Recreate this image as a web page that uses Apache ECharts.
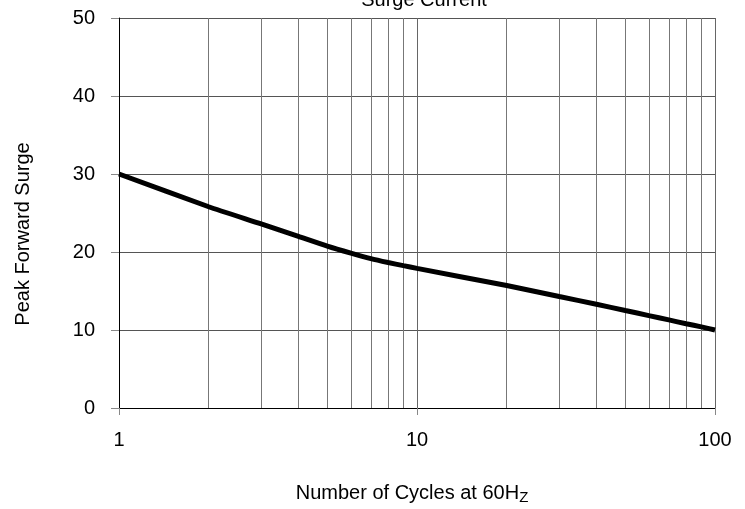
<!DOCTYPE html>
<html>
<head>
<meta charset="utf-8">
<title>Surge Current</title>
<script src="https://cdn.jsdelivr.net/npm/echarts@6/dist/echarts.min.js"></script>
<style>
    html, body { margin: 0; padding: 0; background: #fff; }
    #chart { width: 745px; height: 509px; }
</style>
</head>
<body>
<div id="chart"></div>
<script>
// number of cycles (log axis) and peak surge
var cycles = [1, 2, 3, 4, 5, 6, 7, 8, 9, 10, 20, 30, 40, 50, 60, 70, 80, 90, 100];
var surge = [30, 25.8, 23.6, 22.0, 20.75, 19.85, 19.15, 18.65, 18.25, 17.9, 15.7, 14.3, 13.3, 12.5, 11.85, 11.3, 10.8, 10.4, 10];
// minor vertical grid lines of the log axis
var minorGrid = [2, 3, 4, 5, 6, 7, 8, 9, 20, 30, 40, 50, 60, 70, 80, 90];
var yTicks = [0, 10, 20, 30, 40, 50];

var font = '"Liberation Sans", Arial, sans-serif';

var chart = echarts.init(document.getElementById('chart'));

var points = [];
for (var i = 0; i < cycles.length; i++) {
    points.push([cycles[i], surge[i]]);
}
var gridMarks = [];
for (var j = 0; j < minorGrid.length; j++) {
    gridMarks.push({ xAxis: minorGrid[j] });
}

chart.setOption({
    animation: false,
    backgroundColor: '#fff',
    textStyle: { fontFamily: font },
    grid: { left: 119, right: 30, top: 18, bottom: 101, containLabel: false },
    graphic: [
        {
            // title sits half outside the top edge
            type: 'text', x: 424, y: 0,
            style: {
                text: 'Surge Current', font: '20px ' + font, fill: '#000',
                textAlign: 'center', textVerticalAlign: 'middle'
            }
        },
        {
            type: 'text', x: 23, y: 234, rotation: Math.PI / 2,
            style: {
                text: 'Peak Forward Surge', font: '20px ' + font, fill: '#000',
                textAlign: 'center', textVerticalAlign: 'middle'
            }
        },
        {
            type: 'text', x: 412, y: 493,
            style: {
                text: '{n|Number of Cycles at 60H}{s|Z}',
                textAlign: 'center', textVerticalAlign: 'middle',
                rich: {
                    n: { fontFamily: font, fontSize: 20, color: '#000' },
                    s: { fontFamily: font, fontSize: 15, color: '#000', padding: [10, 0, 0, 0] }
                }
            }
        }
    ],
    xAxis: {
        type: 'log',
        logBase: 10,
        min: 1,
        max: 100,
        axisLine: { show: true, onZero: false, lineStyle: { color: '#000', width: 1 } },
        axisTick: { show: true, length: 7, lineStyle: { color: '#888' } },
        axisLabel: { margin: 22, fontSize: 20, color: '#000', fontFamily: font },
        splitLine: { show: true, lineStyle: { color: '#666', width: 1 } },
        minorTick: { show: false },
        minorSplitLine: { show: false }
    },
    yAxis: {
        type: 'value',
        min: 0,
        max: 50,
        interval: 10,
        axisLine: { show: true, lineStyle: { color: '#000', width: 1 } },
        axisTick: { show: true, length: 8, lineStyle: { color: '#888' } },
        axisLabel: {
            margin: 24, fontSize: 20, color: '#000', fontFamily: font,
            formatter: function (v) { return yTicks.indexOf(v) >= 0 ? String(v) : ''; }
        },
        splitLine: { show: true, lineStyle: { color: '#555', width: 1 } }
    },
    series: [{
        type: 'line',
        data: points,
        smooth: 0.2,
        showSymbol: false,
        lineStyle: { color: '#000', width: 5 },
        z: 5,
        markLine: {
            silent: true,
            symbol: ['none', 'none'],
            label: { show: false },
            lineStyle: { color: '#777', width: 1, type: 'solid' },
            emphasis: { disabled: true },
            data: gridMarks,
            z: 1
        }
    }]
});
</script>
</body>
</html>
